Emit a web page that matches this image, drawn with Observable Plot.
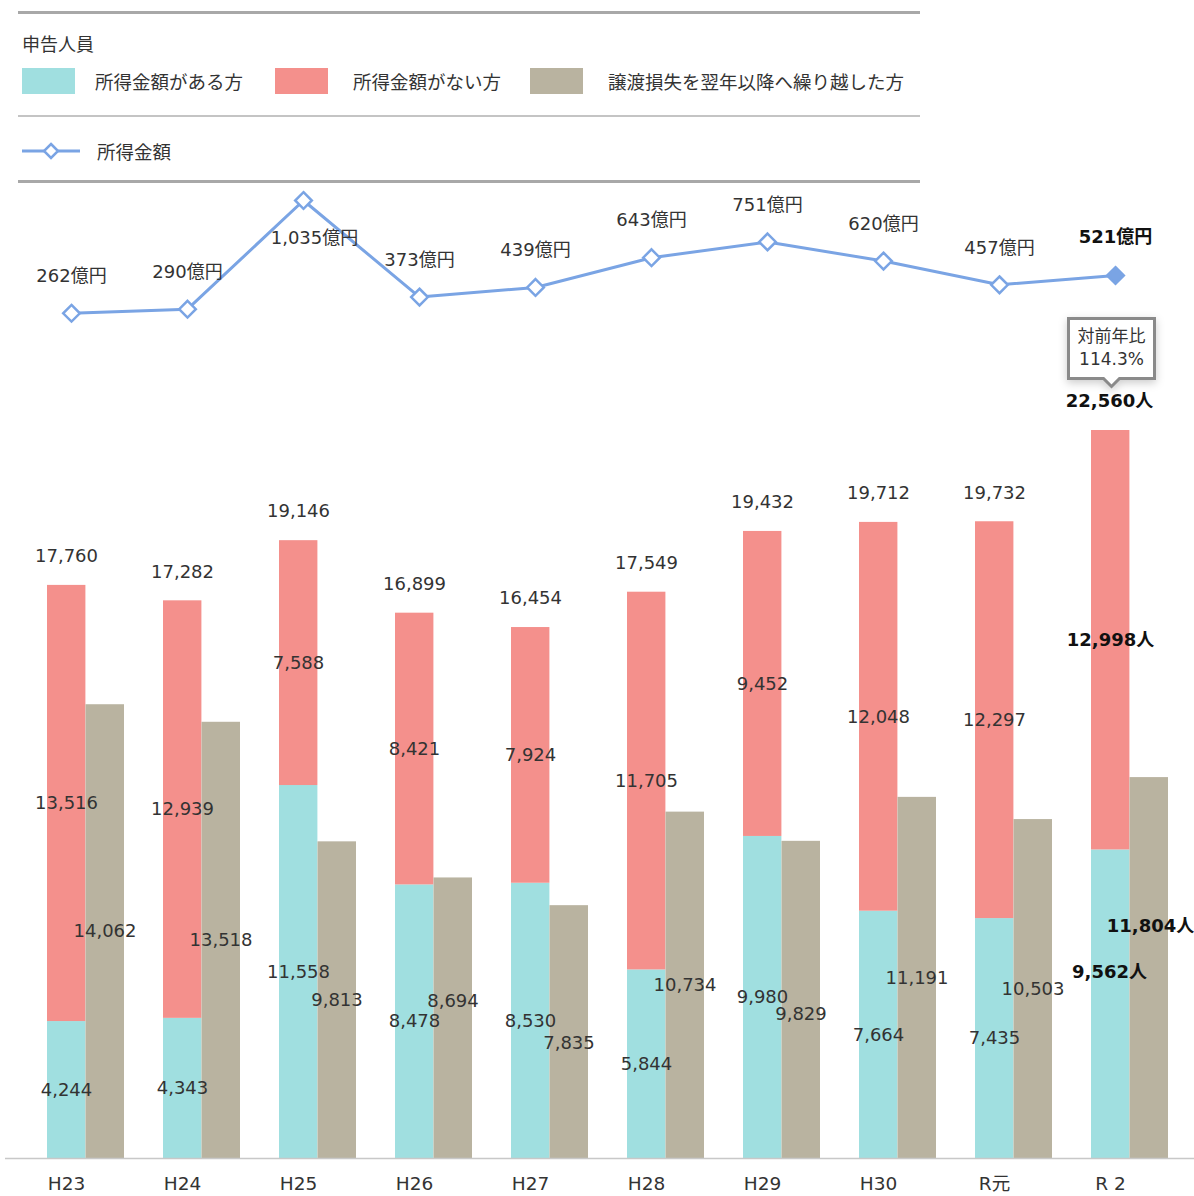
<!DOCTYPE html>
<html>
<head>
<meta charset="utf-8">
<script src="https://cdn.jsdelivr.net/npm/d3@7"></script>
<script src="https://cdn.jsdelivr.net/npm/@observablehq/plot@0.6"></script>
<style>
  html, body { margin: 0; padding: 0; background: #fff; }
  body { width: 1194px; height: 1196px; overflow: hidden; font-family: "DejaVu Sans", "Noto Sans CJK JP", sans-serif; color: #333; }
  #legend { position: relative; height: 185px; }
  .sep { position: absolute; left: 18px; width: 902px; background: #a8a8a8; }
  .lg-title { position: absolute; left: 22px; top: 30px; font-size: 18px; font-family: "Noto Sans CJK JP", sans-serif; color: #333; }
  .lg-item { position: absolute; top: 68px; display: flex; align-items: center; font-size: 18.5px; font-family: "Noto Sans CJK JP", sans-serif; color: #333; }
  .sw { width: 53px; height: 26px; margin-right: 23px; }
  .lg-line { position: absolute; left: 22px; top: 138px; display: flex; align-items: center; font-size: 18.5px; font-family: "Noto Sans CJK JP", sans-serif; color: #333; }
  svg { display: block; }
</style>
</head>
<body>
<div id="legend"></div>
<div id="line"></div>
<div id="bars"></div>
<script>
// ---- data ----
const years = ["H23", "H24", "H25", "H26", "H27", "H28", "H29", "H30", "R元", "R 2"];
const withIncome = [4244, 4343, 11558, 8478, 8530, 5844, 9980, 7664, 7435, 9562];
const withoutIncome = [13516, 12939, 7588, 8421, 7924, 11705, 9452, 12048, 12297, 12998];
const carryOver = [14062, 13518, 9813, 8694, 7835, 10734, 9829, 11191, 10503, 11804];
const incomeAmount = [262, 290, 1035, 373, 439, 643, 751, 620, 457, 521]; // 億円

const seriesNames = ["所得金額がある方", "所得金額がない方", "譲渡損失を翌年以降へ繰り越した方"];
const lineName = "所得金額";
const legendTitle = "申告人員";
const colors = ["#a0dfe0", "#f4908c", "#b9b3a0"];
const lineColor = "#7aa4e4";

const fmt = d3.format(",");
const last = years.length - 1;
const totals = years.map((_, i) => withIncome[i] + withoutIncome[i]);
const ratioText = "対前年比\n" + d3.format(".1%")(totals[last] / totals[last - 1]);

const font = "'DejaVu Sans', 'Noto Sans CJK JP', sans-serif";

// ---- legend ----
const legend = document.getElementById("legend");
const itemLeft = [22, 275, 530];
legend.innerHTML = `
  <div class="sep" style="top:11px;height:3px"></div>
  <div class="lg-title">${legendTitle}</div>
  ${seriesNames.map((n, i) => `<div class="lg-item" style="left:${itemLeft[i]}px"><div class="sw" style="background:${colors[i]};margin-right:${i === 0 ? 20 : 25}px"></div>${n}</div>`).join("")}
  <div class="sep" style="top:115px;height:2px;background:#c4c4c4"></div>
  <div class="lg-line"><svg width="60" height="24" style="margin-right:15px"><line x1="0" y1="12" x2="58" y2="12" stroke="${lineColor}" stroke-width="3"/><path d="M29,5 L36,12 L29,19 L22,12 Z" fill="#fff" stroke="${lineColor}" stroke-width="2.5"/></svg>${lineName}</div>
  <div class="sep" style="top:180px;height:3px"></div>
`;

// ---- line chart (所得金額) ----
const lineData = years.map((y, i) => ({year: y, value: incomeAmount[i], i}));
const lineChart = Plot.plot({
  width: 1194,
  height: 202,
  marginTop: 15,
  marginBottom: 36,
  marginLeft: 12,
  marginRight: 21,
  x: {type: "point", domain: years, padding: 0.5, axis: null},
  y: {domain: [0, d3.max(incomeAmount)], axis: null},
  style: {fontFamily: font, background: "transparent", overflow: "visible"},
  marks: [
    Plot.line(lineData, {x: "year", y: "value", stroke: lineColor, strokeWidth: 3}),
    Plot.dot(lineData, {x: "year", y: "value", symbol: "diamond2", r: 7.5, stroke: lineColor, strokeWidth: 2.5,
      fill: d => d.i === last ? lineColor : "#fff"}),
    Plot.text(lineData.filter(d => d.i !== 2 && d.i !== last), {x: "year", y: "value", text: d => fmt(d.value) + "億円",
      dy: -37, fontSize: 18, fill: "#333"}),
    Plot.text(lineData.filter(d => d.i === 2), {x: "year", y: "value", text: d => fmt(d.value) + "億円",
      dy: 38, dx: 11, fontSize: 18, fill: "#333"}),
    Plot.text(lineData.filter(d => d.i === last), {x: "year", y: "value", text: d => fmt(d.value) + "億円",
      dy: -38, fontSize: 18, fontWeight: "bold", fill: "#111"}),
    Plot.tip([{year: years[last], t: ratioText}], {x: "year", title: "t", frameAnchor: "bottom", anchor: "bottom",
      dy: 35, dx: -4, fill: "#fff", stroke: "#8a8a8a", strokeWidth: 3, fontSize: 17, textPadding: 9, pointerSize: 16,
      lineHeight: 1.3, textAnchor: "middle"})
  ]
});
document.getElementById("line").appendChild(lineChart);

// ---- bar chart (申告人員) ----
const stacked = [];
years.forEach((y, i) => {
  stacked.push({year: y, type: seriesNames[0], value: withIncome[i], mid: withIncome[i] / 2, i});
  stacked.push({year: y, type: seriesNames[1], value: withoutIncome[i], mid: withIncome[i] + withoutIncome[i] / 2, i});
});
const carry = years.map((y, i) => ({year: y, value: carryOver[i], mid: carryOver[i] / 2, i}));
const totalData = years.map((y, i) => ({year: y, value: totals[i], i}));

const labelStyle = {fontSize: 18, fill: "#333"};
const boldStyle = {fontSize: 18, fill: "#111", fontWeight: "bold"};
const notLast = d => d.i !== last;
const isLast = d => d.i === last;

const barChart = Plot.plot({
  width: 1194,
  height: 809,
  marginTop: 43,
  marginBottom: 38,
  marginLeft: 26,
  marginRight: 7,
  x: {domain: years, padding: 0, label: null},
  y: {domain: [0, d3.max(totals)], axis: null},
  color: {domain: seriesNames, range: colors},
  style: {fontFamily: font, background: "transparent"},
  marks: [
    Plot.barY(stacked, {x: "year", y: "value", fill: "type", z: "type", order: seriesNames, insetLeft: 20, insetRight: 57.6}),
    Plot.barY(carry, {x: "year", y: "value", fill: colors[2], insetLeft: 58.5, insetRight: 19}),
    Plot.ruleY([0], {stroke: "#c8c8c8", strokeWidth: 1.5, insetLeft: -21, insetRight: -7}),
    // labels for stacked segments (centered)
    Plot.text(stacked.filter(notLast), {x: "year", y: "mid", text: d => fmt(d.value), dx: -19, ...labelStyle}),
    Plot.text(stacked.filter(d => isLast(d) && d.type === seriesNames[1]), {x: "year", y: "mid",
      text: d => fmt(d.value) + "人", dx: -19, ...boldStyle}),
    Plot.text(stacked.filter(d => isLast(d) && d.type === seriesNames[0]), {x: "year", y: "mid",
      text: d => fmt(d.value) + "人", dx: -20, dy: -32, ...boldStyle}),
    // carry-over labels
    Plot.text(carry.filter(d => ![3, 4, 6, last].includes(d.i)), {x: "year", y: "mid", text: d => fmt(d.value), dx: 19.5, ...labelStyle}),
    Plot.text(carry.filter(d => d.i === 3), {x: "year", y: "mid", text: d => fmt(d.value), dx: 19.5, dy: -17, ...labelStyle}),
    Plot.text(carry.filter(d => d.i === 4), {x: "year", y: "mid", text: d => fmt(d.value), dx: 19.5, dy: 11, ...labelStyle}),
    Plot.text(carry.filter(d => d.i === 6), {x: "year", y: "mid", text: d => fmt(d.value), dx: 19.5, dy: 14, ...labelStyle}),
    Plot.text(carry.filter(isLast), {x: "year", y: "mid", text: d => fmt(d.value) + "人", dx: 21, dy: -42, ...boldStyle}),
    // totals
    Plot.text(totalData.filter(notLast), {x: "year", y: "value", text: d => fmt(d.value), dx: -19, dy: -29, ...labelStyle}),
    Plot.text(totalData.filter(isLast), {x: "year", y: "value", text: d => fmt(d.value) + "人", dx: -20, dy: -29, ...boldStyle}),
    Plot.axisX({tickSize: 0, tickPadding: 18, dx: -19, fontSize: 18.5, fill: "#333", label: null})
  ]
});
document.getElementById("bars").appendChild(barChart);
</script>
</body>
</html>
